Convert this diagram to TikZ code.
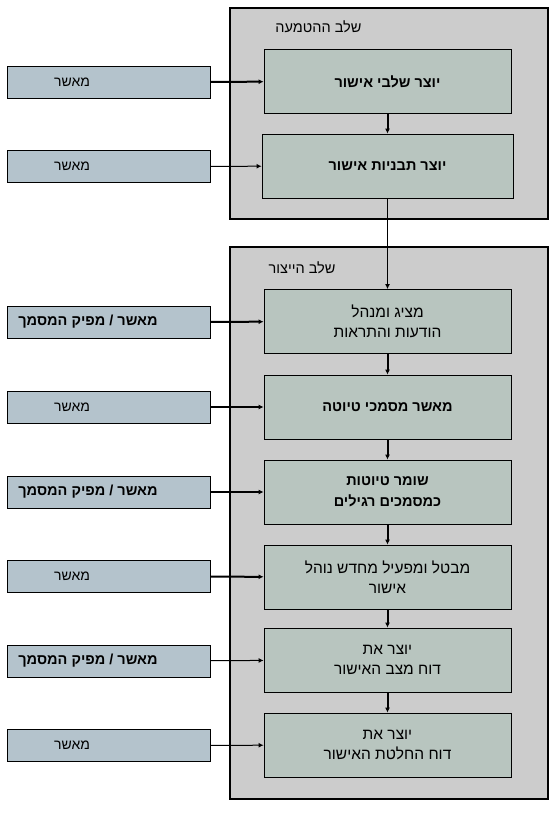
\documentclass[tikz,border=0pt]{standalone}
\usepackage{fontspec}
\usepackage{tikz}
\usetikzlibrary{arrows,arrows.meta}
\newfontfamily\hebfont[Script=Hebrew]{Liberation Sans}
\TeXXeTstate=1
\newcommand{\heb}[1]{\beginR #1\endR}
\definecolor{stagegray}{HTML}{CCCCCC}
\definecolor{taskgreen}{HTML}{B8C5BF}
\definecolor{actorblue}{HTML}{B4C3CC}

\begin{document}
\begin{tikzpicture}[x=1pt,y=-1pt]
                      \tikzstyle{stage}=[draw=black,line width=2.5pt,fill=stagegray,minimum width=318pt,inner sep=0pt]
                      \tikzstyle{title}=[anchor=east,font=\hebfont\fontsize{14.5}{16}\selectfont]
                      \tikzstyle{task}=[draw=black,line width=0.8pt,fill=taskgreen,minimum width=247pt,minimum height=64pt,inner sep=0pt,align=center,font=\hebfont\fontsize{15.5}{20}\selectfont]
                      \tikzstyle{boldtask}=[task,font=\hebfont\bfseries\fontsize{14.5}{21}\selectfont]
                      \tikzstyle{actor}=[draw=black,line width=0.8pt,fill=actorblue,minimum width=203pt,minimum height=32pt,inner sep=0pt]
                      \tikzstyle{actortext}=[font=\hebfont\fontsize{14}{16}\selectfont]
                      \tikzstyle{flow}=[-{Latex[length=5pt,width=5pt]},line width=1pt]
                      \tikzstyle{flowthick}=[-{Latex[length=5pt,width=5pt]},line width=2pt]
                      \useasboundingbox (0,0) rectangle (554,813);
                      % stages
                      \node[stage,minimum height=211pt] (s1) at (389,113.5) {};
                      \node[stage,minimum height=552pt] (s2) at (389,523) {};
                      \node[title] (s1t) at (365,27) {\heb{שלב ההטמעה}};
                      \node[title] (s2t) at (339,268) {\heb{שלב הייצור}};
                      % tasks
                      \node[boldtask] (a) at (387.5,81.5) {\heb{יוצר שלבי אישור}};
                      \node[boldtask,minimum width=251pt] (b) at (387.5,166) {\heb{יוצר תבניות אישור}};
                      \node[task] (c) at (387.5,321.5) {\heb{מציג ומנהל}\\\heb{הודעות והתראות}};
                      \node[boldtask] (d) at (387.5,407) {\heb{מאשר מסמכי טיוטה}};
                      \node[boldtask] (e) at (387.5,492) {\heb{שומר טיוטות}\\\heb{כמסמכים רגילים}};
                      \node[task] (f) at (387.5,577) {\heb{מבטל ומפעיל מחדש נוהל}\\\heb{אישור}};
                      \node[task] (g) at (387.5,660) {\heb{יוצר את}\\\heb{דוח מצב האישור}};
                      \node[task] (h) at (387.5,745) {\heb{יוצר את}\\\heb{דוח החלטת האישור}};
                      % actors
                      \foreach \n/\y in {1/82,2/166.5,3/322,4/407,5/492,6/576.5,7/661,8/745.5}
                        \node[actor] (m\n) at (108.5,\y) {};
                      \foreach \n in {1,2,4,6,8}
                        \node[actortext] (m\n t) at ([xshift=-36.5pt]m\n.center) {\heb{מאשר}};
                      \foreach \n in {3,5,7}
                        \node[actortext,font=\hebfont\bfseries\fontsize{14.5}{16}\selectfont] (m\n t) at ([xshift=-20.5pt]m\n.center) {\heb{מאשר / מפיק המסמך}};
                      % arrows
                      \draw[flowthick] (m1) -- (a);
                      \draw[flow] (m2) -- (b);
                      \draw[flowthick] (m3) -- (c);
                      \draw[flowthick] (m4) -- (d);
                      \draw[flowthick] (m5) -- (e);
                      \draw[flowthick] (m6) -- (f);
                      \draw[flow] (m7) -- (g);
                      \draw[flow] (m8) -- (h);
                      \draw[flowthick] (a) -- (b);
                      \draw[-{Latex[length=5pt,width=5pt]},line width=1.6pt] (b) -- (c);
                      \draw[flowthick] (c) -- (d);
                      \draw[flowthick] (d) -- (e);
                      \draw[flowthick] (e) -- (f);
                      \draw[flowthick] (f) -- (g);
                      \draw[flowthick] (g) -- (h);
                  \end{tikzpicture}
\end{document}
